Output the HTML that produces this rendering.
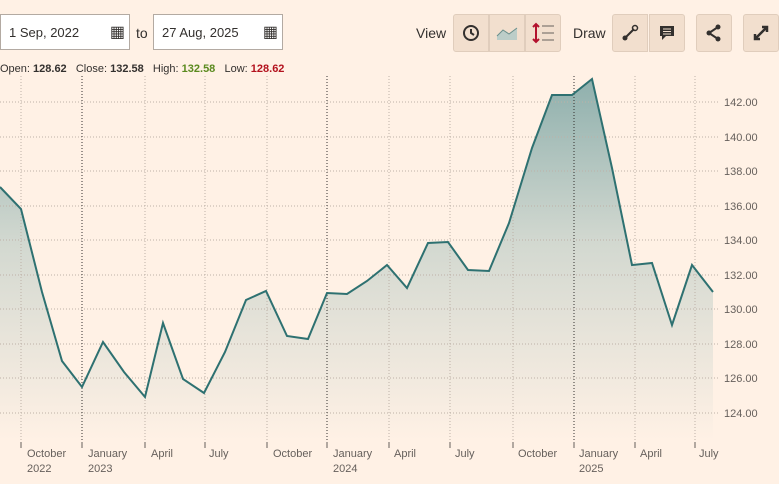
<!DOCTYPE html>
<html><head><style>
body{margin:0;width:779px;height:484px;background:#fff1e5;font-family:"Liberation Sans",sans-serif;overflow:hidden;position:relative}
.inp{position:absolute;top:14px;height:36px;background:#fff;border:1px solid #b3aaa2;box-sizing:border-box;font-size:13px;line-height:36px;padding-left:8px;color:#33302e}
.btn{position:absolute;top:14px;width:36px;height:38px;background:#f2dfce;border:1px solid #e0cdbc;box-sizing:border-box;display:flex;align-items:center;justify-content:center}
.lbl{position:absolute;top:25px;font-size:14px;color:#33302e}
</style></head><body>
<div class="inp" style="left:0;width:130px">1 Sep, 2022<span style="position:absolute;right:4px;top:0;font-size:16px">▦</span></div>
<div class="lbl" style="left:136px">to</div>
<div class="inp" style="left:153px;width:130px">27 Aug, 2025<span style="position:absolute;right:4px;top:0;font-size:16px">▦</span></div>
<div style="position:absolute;left:0;top:63px;font-size:11px;color:#33302e">Open: <b>128.62</b> &nbsp; Close: <b>132.58</b> &nbsp; High: <b style="color:#5a8a1e">132.58</b> &nbsp; Low: <b style="color:#b3121e">128.62</b></div>
<div class="lbl" style="left:416px">View</div>
<div class="btn" style="left:453px;border-radius:3px 0 0 3px"><svg width="18" height="18"><circle cx="9" cy="9" r="7" fill="none" stroke="#33302e" stroke-width="2"/><path d="M9 5v4l3 2" stroke="#33302e" stroke-width="2" fill="none"/></svg></div>
<div class="btn" style="left:489px"><svg width="22" height="14"><path d="M1 10l6-6 6 4 8-6v12H1z" fill="#bccdc8"/><path d="M1 10l6-6 6 4 8-6" stroke="#6a8f8b" fill="none"/></svg></div>
<div class="btn" style="left:525px;border-radius:0 3px 3px 0"><svg width="24" height="22"><path d="M5 2v18M2 5l3-3 3 3M2 17l3 3 3-3" stroke="#b3122e" stroke-width="2" fill="none"/><path d="M11 4h12M11 11h12M11 18h12" stroke="#66605c"/></svg></div>
<div class="lbl" style="left:573px">Draw</div>
<div class="btn" style="left:612px;border-radius:3px 0 0 3px"><svg width="18" height="18"><path d="M4 14L13 5" stroke="#33302e" stroke-width="2"/><circle cx="4" cy="14" r="2.5" fill="#33302e"/><circle cx="14" cy="4" r="2.5" fill="none" stroke="#33302e" stroke-width="1.5"/></svg></div>
<div class="btn" style="left:649px;border-radius:0 3px 3px 0"><svg width="18" height="18"><path d="M2 2h14v10H8l-4 4v-4H2z" fill="#33302e"/><path d="M5 5h8M5 7.5h8M5 10h8" stroke="#f2dfce"/></svg></div>
<div class="btn" style="left:696px;border-radius:3px"><svg width="18" height="18"><path d="M13 3L4 9l9 6" stroke="#33302e" stroke-width="2" fill="none"/><circle cx="13" cy="3" r="2.5" fill="#33302e"/><circle cx="4" cy="9" r="2.5" fill="#33302e"/><circle cx="13" cy="15" r="2.5" fill="#33302e"/></svg></div>
<div class="btn" style="left:743px;border-radius:3px"><svg width="18" height="18"><path d="M3 15L15 3M10 3h5v5M3 10v5h5" stroke="#33302e" stroke-width="2.5" fill="none"/></svg></div>
<svg width="779" height="484" style="position:absolute;left:0;top:0">
<defs><linearGradient id="g" x1="0" y1="0" x2="0" y2="1"><stop offset="0" stop-color="#8fb0ad"/><stop offset="0.45" stop-color="#d2d8d0"/><stop offset="1" stop-color="#fff1e5"/></linearGradient></defs>
<path fill="url(#g)" d="M0,187 L21,209 42,292 62,361 82,387 103,342 124,372 145,397 163,323 183,379 204,393 225,352 246,300 266,291 287,336 308,339 327,293 347,294 367,281 387,265 407,288 428,243 448,242 468,270 489,271 509,223 532,148 552,95 572,95 592,79 612,168 632,265 652,263 672,325 692,265 713,292 L713,440 L0,440Z"/>
<g stroke="#bdb1a7" stroke-dasharray="1,2">
<line x1="0" x2="718" y1="102" y2="102"/><line x1="0" x2="718" y1="137" y2="137"/><line x1="0" x2="718" y1="171" y2="171"/><line x1="0" x2="718" y1="206" y2="206"/><line x1="0" x2="718" y1="240" y2="240"/><line x1="0" x2="718" y1="275" y2="275"/><line x1="0" x2="718" y1="309" y2="309"/><line x1="0" x2="718" y1="344" y2="344"/><line x1="0" x2="718" y1="378" y2="378"/><line x1="0" x2="718" y1="413" y2="413"/>
<line x1="21" x2="21" y1="76" y2="440"/><line x1="145" x2="145" y1="76" y2="440"/><line x1="205" x2="205" y1="76" y2="440"/><line x1="267" x2="267" y1="76" y2="440"/><line x1="389" x2="389" y1="76" y2="440"/><line x1="450" x2="450" y1="76" y2="440"/><line x1="513" x2="513" y1="76" y2="440"/><line x1="635" x2="635" y1="76" y2="440"/><line x1="695" x2="695" y1="76" y2="440"/>
</g>
<g stroke="#33302e" stroke-dasharray="1,2"><line x1="82" x2="82" y1="76" y2="440"/><line x1="327" x2="327" y1="76" y2="440"/><line x1="574" x2="574" y1="76" y2="440"/></g>
<polyline fill="none" stroke="#2e7171" stroke-width="2" points="0,187 21,209 42,292 62,361 82,387 103,342 124,372 145,397 163,323 183,379 204,393 225,352 246,300 266,291 287,336 308,339 327,293 347,294 367,281 387,265 407,288 428,243 448,242 468,270 489,271 509,223 532,148 552,95 572,95 592,79 612,168 632,265 652,263 672,325 692,265 713,292"/>
<g stroke="#66605c"><line x1="21" x2="21" y1="442" y2="448"/><line x1="82" x2="82" y1="442" y2="448"/><line x1="145" x2="145" y1="442" y2="448"/><line x1="205" x2="205" y1="442" y2="448"/><line x1="267" x2="267" y1="442" y2="448"/><line x1="327" x2="327" y1="442" y2="448"/><line x1="389" x2="389" y1="442" y2="448"/><line x1="450" x2="450" y1="442" y2="448"/><line x1="513" x2="513" y1="442" y2="448"/><line x1="574" x2="574" y1="442" y2="448"/><line x1="635" x2="635" y1="442" y2="448"/><line x1="695" x2="695" y1="442" y2="448"/></g>
<g font-size="11" fill="#66605c" font-family="Liberation Sans,sans-serif">
<text x="724" y="106">142.00</text><text x="724" y="141">140.00</text><text x="724" y="175">138.00</text><text x="724" y="210">136.00</text><text x="724" y="244">134.00</text><text x="724" y="279">132.00</text><text x="724" y="313">130.00</text><text x="724" y="348">128.00</text><text x="724" y="382">126.00</text><text x="724" y="417">124.00</text>
<text x="27" y="457">October</text><text x="27" y="472">2022</text><text x="88" y="457">January</text><text x="88" y="472">2023</text><text x="151" y="457">April</text><text x="209" y="457">July</text><text x="273" y="457">October</text><text x="333" y="457">January</text><text x="333" y="472">2024</text><text x="394" y="457">April</text><text x="455" y="457">July</text><text x="518" y="457">October</text><text x="579" y="457">January</text><text x="579" y="472">2025</text><text x="640" y="457">April</text><text x="699" y="457">July</text>
</g></svg>
</body></html>
